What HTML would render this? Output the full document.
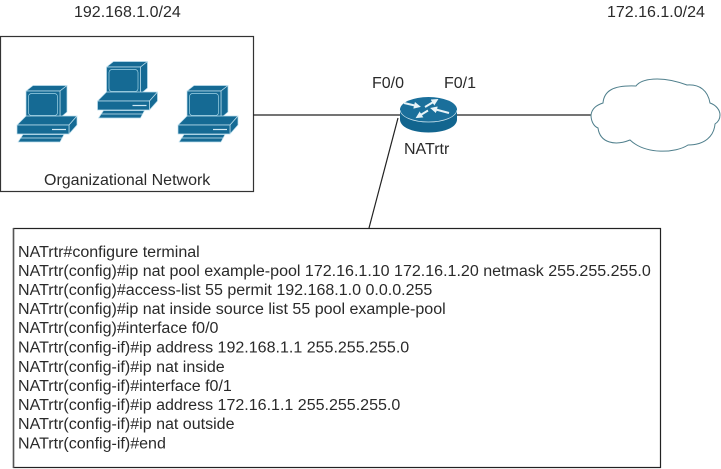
<!DOCTYPE html>
<html><head><meta charset="utf-8"><style>
html,body{margin:0;padding:0;background:#fff}
svg{display:block}
text{font-family:"Liberation Sans",Arial,sans-serif;font-size:16px;fill:#2a2a2a}
.c text{font-size:16.05px}
</style></head><body>
<svg width="721" height="469" viewBox="0 0 721 469" xmlns="http://www.w3.org/2000/svg">
<defs>
<g id="pc" stroke="#bfe0ee" stroke-width="0.7" stroke-linejoin="round" fill="#156a94">
<polygon points="26,91 33,85.500 67,85.500 60,91"/>
<polygon points="60,91 67,85.500 67,112 60,118"/>
<rect x="26" y="91" width="34" height="27"/>
<rect x="28.500" y="93.500" width="29" height="22" rx="3" fill="#156a94" stroke="#9fd3e6"/>
<polygon points="17,125 26,116 77,116 69,125"/>
<polygon points="69,125 77,116 77,125 69,134"/>
<rect x="17" y="125" width="52" height="9"/>
<line x1="52" y1="129.500" x2="66" y2="129.500" stroke="#cfe8f2" stroke-width="1.200"/>
<polygon points="23,134.500 64,134.500 60,142 18,142"/>
<line x1="21" y1="138" x2="62" y2="138" stroke="#cfe8f2" stroke-width="0.800"/>
</g>
<marker id="ah" markerUnits="userSpaceOnUse" markerWidth="7" markerHeight="7" refX="3" refY="3.500" orient="auto">
<polygon points="0,0 7,3.500 0,7" fill="#e8f3f7"/>
</marker>
</defs>
<rect width="721" height="469" fill="#fff"/>

<text x="74" y="17">192.168.1.0/24</text>
<text x="607" y="17">172.16.1.0/24</text>

<rect x="0.500" y="36.500" width="253" height="155" fill="#fff" stroke="#333" stroke-width="1.200"/>
<use href="#pc"/>
<use href="#pc" x="80.500" y="-24"/>
<use href="#pc" x="161"/>
<text x="44" y="185">Organizational Network</text>

<line x1="253" y1="115" x2="402" y2="115" stroke="#222" stroke-width="1.200"/>
<line x1="455" y1="115" x2="593" y2="115" stroke="#222" stroke-width="1.200"/>
<line x1="398" y1="118" x2="369" y2="228" stroke="#222" stroke-width="1.200"/>

<path d="M400,109.500 V119.500 C400,127 412,132.500 428.500,132.500 C445,132.500 457,127 457,119.500 V109.500 Z" fill="#12658f"/>
<ellipse cx="428.500" cy="109.500" rx="28.500" ry="12.500" fill="#1a6f9b"/>
<path d="M400,110 C401,117 413,122 428.500,122 C444,122 456,117 457,110" fill="none" stroke="#cfe6f0" stroke-width="0.700"/>
<g stroke="#e8f3f7" stroke-width="2" fill="none">
<line x1="404" y1="103" x2="417" y2="106" marker-end="url(#ah)"/>
<line x1="425" y1="107" x2="435" y2="101" marker-end="url(#ah)"/>
<line x1="449" y1="113" x2="434" y2="109" marker-end="url(#ah)"/>
<line x1="428" y1="110.500" x2="419" y2="116" marker-end="url(#ah)"/>
</g>

<text x="372" y="88">F0/0</text>
<text x="444" y="88">F0/1</text>
<text x="404" y="154">NATrtr</text>

<path d="M591,115 C592,108 597,105 603,103 C604,91 613,85 636,86 C641,79 660,75 687,85 C700,84 708,91 710,103 C716,105 720,110 720,115 C720,119 718,122 715,124 C714,136 705,145 688,145 C676,153 646,155 630,140 C615,146 600,143 598,128 C593,126 591,120 591,115 Z" fill="#fff" stroke="#4f7f8c" stroke-width="1"/>

<rect x="13.500" y="228.500" width="647" height="239" fill="#fff" stroke="#222" stroke-width="1.200"/>
<line x1="13.500" y1="228" x2="13.500" y2="468" stroke="#555" stroke-width="1.500"/>
<g class="c">
<text x="18" y="257">NATrtr#configure terminal</text>
<text x="18" y="276">NATrtr(config)#ip nat pool example-pool 172.16.1.10 172.16.1.20 netmask 255.255.255.0</text>
<text x="18" y="295">NATrtr(config)#access-list 55 permit 192.168.1.0 0.0.0.255</text>
<text x="18" y="314">NATrtr(config)#ip nat inside source list 55 pool example-pool</text>
<text x="18" y="333">NATrtr(config)#interface f0/0</text>
<text x="18" y="352.500">NATrtr(config-if)#ip address 192.168.1.1 255.255.255.0</text>
<text x="18" y="372">NATrtr(config-if)#ip nat inside</text>
<text x="18" y="391">NATrtr(config-if)#interface f0/1</text>
<text x="18" y="410">NATrtr(config-if)#ip address 172.16.1.1 255.255.255.0</text>
<text x="18" y="429">NATrtr(config-if)#ip nat outside</text>
<text x="18" y="448.500">NATrtr(config-if)#end</text>
</g>
</svg>
</body></html>
